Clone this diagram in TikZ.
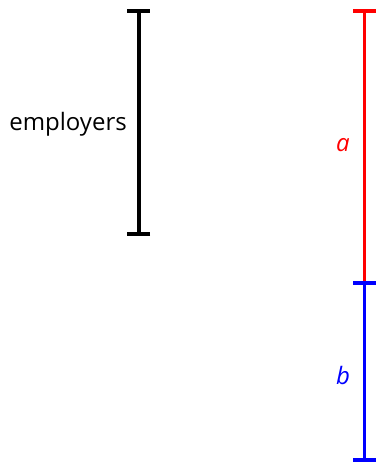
\documentclass[tikz,border=0pt]{standalone}
\usepackage{fontspec}
\setmainfont{Open Sans}
\usetikzlibrary{arrows.meta}
\begin{document}
\begin{tikzpicture}[x=1pt,y=1pt,
  capped/.style={line width=3.6pt,{Bar[width=23pt,line width=3.6pt]}-{Bar[width=23pt,line width=3.6pt]}},
  topcap/.style={line width=3.6pt,{Bar[width=23pt,line width=3.6pt]}-},
  lbl/.style={inner sep=0pt,font=\fontsize{24}{28}\selectfont}]
\useasboundingbox (0,0) rectangle (376,-464);
\coordinate (k1) at (138.7,-9);
\coordinate (k2) at (138.7,-235.5);
\coordinate (r1) at (364.5,-9);
\coordinate (r2) at (364.5,-281.3);
\coordinate (b2) at (364.5,-461.5);
\draw[capped,black] (k1) -- (k2);
\draw[topcap,red] (r1) -- (r2);
\draw[capped,blue] (r2) -- (b2);
\node[lbl,anchor=east] (emp) at (127,-124) {employers};
\node[lbl,red] (a) at (343,-145) {\itshape a};
\node[lbl,blue] (b) at (343,-375) {\itshape b};
\end{tikzpicture}
\end{document}
